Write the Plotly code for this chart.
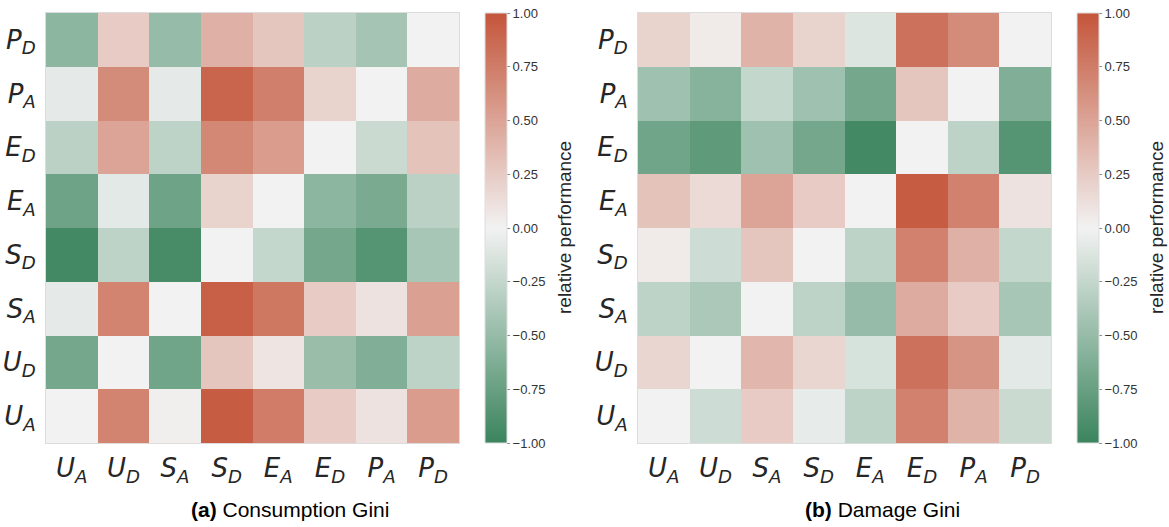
import plotly.graph_objects as go

# Policy labels (row/column order, first entry drawn at the bottom of the y axis)
labels = ["U_A", "U_D", "S_A", "S_D", "E_A", "E_D", "P_A", "P_D"]

# Relative performance of row policy vs column policy
consumption_gini = [
    [0.00, 0.70, 0.02, 0.95, 0.75, 0.25, 0.10, 0.55],
    [-0.68, 0.00, -0.70, 0.28, 0.08, -0.48, -0.62, -0.28],
    [-0.07, 0.70, 0.00, 0.93, 0.78, 0.25, 0.10, 0.52],
    [-0.95, -0.28, -0.93, 0.00, -0.25, -0.68, -0.85, -0.40],
    [-0.72, -0.08, -0.72, 0.20, 0.00, -0.55, -0.65, -0.30],
    [-0.30, 0.50, -0.28, 0.68, 0.55, 0.00, -0.22, 0.30],
    [-0.07, 0.65, -0.07, 0.90, 0.73, 0.20, 0.00, 0.45],
    [-0.55, 0.25, -0.50, 0.42, 0.28, -0.30, -0.42, 0.00],
]

damage_gini = [
    [0.00, -0.20, 0.25, -0.06, -0.28, 0.72, 0.40, -0.22],
    [0.18, 0.00, 0.38, 0.18, -0.15, 0.82, 0.60, -0.08],
    [-0.28, -0.38, 0.00, -0.28, -0.50, 0.45, 0.25, -0.40],
    [0.05, -0.20, 0.28, 0.00, -0.28, 0.72, 0.42, -0.25],
    [0.30, 0.15, 0.50, 0.25, 0.00, 0.95, 0.72, 0.10],
    [-0.70, -0.80, -0.45, -0.68, -0.95, 0.00, -0.28, -0.85],
    [-0.45, -0.58, -0.25, -0.45, -0.68, 0.28, 0.00, -0.62],
    [0.20, 0.05, 0.40, 0.20, -0.12, 0.82, 0.65, 0.00],
]

panel_titles = ["<b>(a)</b> Consumption Gini", "<b>(b)</b> Damage Gini"]
colorbar_title = "relative performance"
cbar_ticks = [-1.0, -0.75, -0.5, -0.25, 0.0, 0.25, 0.5, 0.75, 1.0]

W, H = 1169, 527
diverging = [[0.0, "#3a845d"], [0.5, "#f2f2f2"], [1.0, "#c4553a"]]


def tex_label(name):
    base, sub = name.split("_")
    return f"<i>{base}</i><sub><i>{sub}</i></sub>"


tick_text = [tex_label(s) for s in labels]

# pixel layout of each panel: heatmap left/right, colorbar left, caption centre
panels = [(46, 459, 485, 290), (638, 1051, 1077, 882)]
top_px, bot_px = 13, 443
mid_y = 1 - (top_px + bot_px) / 2 / H

fig = go.Figure()
for i, (z, (hx0, hx1, cbx, cap_x)) in enumerate(zip([consumption_gini, damage_gini], panels)):
    suffix = "" if i == 0 else "2"
    fig.add_trace(go.Heatmap(
        z=z, x=labels, y=labels,
        xaxis="x" + suffix, yaxis="y" + suffix,
        colorscale=diverging, zmin=-1, zmax=1,
        colorbar=dict(
            x=cbx / W, xanchor="left", xpad=0,
            y=mid_y, yanchor="middle", ypad=0,
            len=(bot_px - top_px) / H, lenmode="fraction",
            thickness=22, thicknessmode="pixels",
            outlinecolor="#dddddd", outlinewidth=1,
            tickvals=cbar_ticks, tickformat=".2f",
            ticks="outside", ticklen=3, tickcolor="#8c8c8c", tickwidth=1,
            tickfont=dict(family="Liberation Sans, Arial", size=13, color="#333333"),
        ),
        hoverongaps=False,
    ))
    axis_common = dict(
        type="category", showgrid=False, zeroline=False,
        showline=True, linecolor="#dcdcdc", linewidth=1, mirror=True,
        ticks="", tickmode="array", tickvals=labels, ticktext=tick_text,
        tickfont=dict(family="DejaVu Sans", size=26, color="#262626"),
    )
    fig.layout["xaxis" + suffix] = dict(axis_common, domain=[hx0 / W, hx1 / W],
                                        anchor="y" + suffix, ticklabelstandoff=2)
    fig.layout["yaxis" + suffix] = dict(axis_common, domain=[1 - bot_px / H, 1 - top_px / H],
                                        anchor="x" + suffix, ticklabelstandoff=4)
    # colorbar label, rotated
    fig.add_annotation(
        text=colorbar_title, showarrow=False, textangle=-90,
        x=(cbx + 79) / W, y=mid_y, xref="paper", yref="paper",
        xanchor="center", yanchor="middle",
        font=dict(family="Liberation Sans, Arial", size=19, color="#262626"),
    )
    fig.add_annotation(
        text=panel_titles[i], showarrow=False,
        x=cap_x / W, y=1 - 509 / H, xref="paper", yref="paper",
        xanchor="center", yanchor="middle",
        font=dict(family="Liberation Sans, Arial", size=21, color="#000000"),
    )

fig.update_layout(
    width=W, height=H,
    margin=dict(l=0, r=0, t=0, b=0),
    paper_bgcolor="white", plot_bgcolor="white",
    showlegend=False,
)

fig.write_html("out.html")
